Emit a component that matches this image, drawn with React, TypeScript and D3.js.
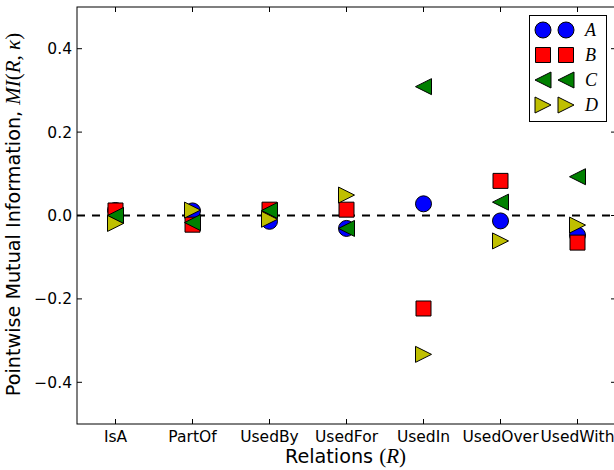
import React from "react";
import * as d3 from "d3";

const categories = ["IsA", "PartOf", "UsedBy", "UsedFor", "UsedIn", "UsedOver", "UsedWith"];
const seriesA = [0.012, 0.011, -0.014, -0.031, 0.028, -0.013, -0.047];
const seriesB = [0.012, -0.022, 0.014, 0.014, -0.223, 0.083, -0.065];
const seriesC = [0.0, -0.017, 0.012, -0.031, 0.309, 0.032, 0.093];
const seriesD = [-0.019, 0.013, -0.009, 0.049, -0.333, -0.061, -0.023];
const yTicks = [-0.4, -0.2, 0.0, 0.2, 0.4];
const seriesNames = ["A", "B", "C", "D"];

const W = 614;
const H = 470;
const margin = { left: 77, right: 616, top: 7, bottom: 424 };

const series = [
  { name: "A", values: seriesA, color: "#0000ff", shape: "circle" },
  { name: "B", values: seriesB, color: "#ff0000", shape: "square" },
  { name: "C", values: seriesC, color: "#008000", shape: "left" },
  { name: "D", values: seriesD, color: "#bfbf00", shape: "right" },
];

function markerPath(shape: string, s: number): string {
  const h = s / 2;
  if (shape === "square") return `M${-h},${-h}L${h},${-h}L${h},${h}L${-h},${h}Z`;
  if (shape === "left") return `M${-h},0L${h},${-h}L${h},${h}Z`;
  if (shape === "right") return `M${h},0L${-h},${-h}L${-h},${h}Z`;
  return "";
}

function Marker({ shape, color, x, y }: { shape: string; color: string; x: number; y: number }) {
  if (shape === "circle") {
    return <circle cx={x} cy={y} r={8} fill={color} stroke="#000" strokeWidth={1} />;
  }
  const s = shape === "square" ? 15 : 16;
  return (
    <path d={markerPath(shape, s)} transform={`translate(${x},${y})`} fill={color} stroke="#000" strokeWidth={1} strokeLinejoin="miter" />
  );
}

function fmt(v: number) {
  const s = Math.abs(v).toFixed(1);
  return v < 0 ? "\u2212" + s : s;
}

export default function App() {
  const x = d3.scalePoint<string>().domain(categories).range([margin.left, margin.right]).padding(0.5);
  const y = d3.scaleLinear().domain([-0.5, 0.5]).range([margin.bottom, margin.top]);
  const tickFont = "DejaVu Sans";
  const mathFont = "Liberation Serif";
  const tl = 5;
  const tickSize = 15.5;
  const labelSize = 19.2;
  const mathSize = 21;

  return (
    <svg width={W} height={H} style={{ position: "absolute", left: 0, top: 0, background: "#fff" }} fontFamily={tickFont}>
      <rect x={0} y={0} width={W} height={H} fill="#fff" />
      {/* zero line */}
      <line x1={margin.left} x2={margin.right} y1={y(0)} y2={y(0)} stroke="#000" strokeWidth={2.2} strokeDasharray="8,7" />
      {/* markers */}
      {series.map((s) =>
        s.values.map((v, i) => (
          <Marker key={s.name + i} shape={s.shape} color={s.color} x={x(categories[i]) as number} y={y(v)} />
        ))
      )}
      {/* axes frame */}
      <rect x={margin.left} y={margin.top} width={margin.right - margin.left} height={margin.bottom - margin.top} fill="none" stroke="#000" strokeWidth={1} />
      {/* x ticks */}
      {categories.map((c) => {
        const xx = x(c) as number;
        return (
          <g key={c}>
            <line x1={xx} x2={xx} y1={margin.bottom} y2={margin.bottom - tl} stroke="#000" />
            <line x1={xx} x2={xx} y1={margin.top} y2={margin.top + tl} stroke="#000" />
            <text x={xx} y={442} textAnchor="middle" fontSize={tickSize}>{c}</text>
          </g>
        );
      })}
      {/* y ticks */}
      {yTicks.map((t) => (
        <g key={t}>
          <line x1={margin.left} x2={margin.left + tl} y1={y(t)} y2={y(t)} stroke="#000" />
          <line x1={margin.right} x2={margin.right - tl} y1={y(t)} y2={y(t)} stroke="#000" />
          <text x={72} y={y(t)} dy="0.35em" textAnchor="end" fontSize={tickSize}>{fmt(t)}</text>
        </g>
      ))}
      {/* axis labels */}
      <text x={(margin.left + margin.right) / 2 - 1} y={463} textAnchor="middle" fontSize={labelSize}>
        Relations <tspan fontFamily={mathFont} fontSize={mathSize}>(</tspan><tspan fontFamily={mathFont} fontSize={mathSize} fontStyle="italic">R</tspan><tspan fontFamily={mathFont} fontSize={mathSize}>)</tspan>
      </text>
      <text transform={`translate(20,${(margin.top + margin.bottom) / 2 - 1}) rotate(-90)`} textAnchor="middle" fontSize={labelSize}>
        Pointwise Mutual Information, <tspan fontFamily={mathFont} fontSize={mathSize} fontStyle="italic">MI</tspan><tspan fontFamily={mathFont} fontSize={mathSize}>(</tspan><tspan fontFamily={mathFont} fontSize={mathSize} fontStyle="italic">R</tspan><tspan fontFamily={mathFont} fontSize={mathSize}>, </tspan><tspan fontFamily={mathFont} fontSize={mathSize} fontStyle="italic">κ</tspan><tspan fontFamily={mathFont} fontSize={mathSize}>)</tspan>
      </text>
      {/* legend */}
      <rect x={529.5} y={15.5} width={77} height={106} fill="#fff" stroke="#000" strokeWidth={1} />
      {series.map((s, i) => {
        const ly = 30 + i * 25;
        return (
          <g key={"leg" + s.name}>
            <Marker shape={s.shape} color={s.color} x={543} y={ly} />
            <Marker shape={s.shape} color={s.color} x={566} y={ly} />
            <text x={585} y={ly} dy="0.35em" fontFamily={mathFont} fontStyle="italic" fontSize={18}>{seriesNames[i]}</text>
          </g>
        );
      })}
    </svg>
  );
}
